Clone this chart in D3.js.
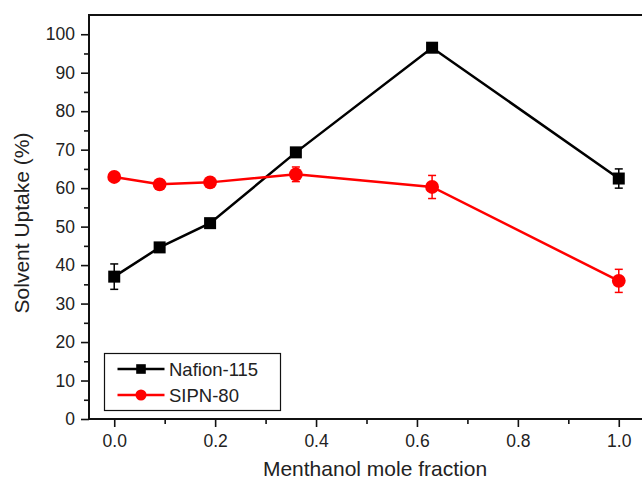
<!DOCTYPE html>
<html>
<head>
<meta charset="utf-8">
<script src="https://cdn.jsdelivr.net/npm/d3@7"></script>
<style>
  body { margin: 0; background: #fff; }
  text { font-family: "Liberation Sans", Arial, sans-serif; fill: #222; }
</style>
</head>
<body>
<svg id="chart" width="642" height="479"></svg>
<script>
// methanol mole fraction
let fractions = [0.0, 0.09, 0.19, 0.36, 0.63, 1.0]

let nafion = [37.0, 44.6, 50.9, 69.3, 96.5, 62.5]
let nafionErr = [3.3, 0.6, 0.6, 1.0, 1.0, 2.5]

let sipn = [62.9, 61.0, 61.5, 63.6, 60.3, 35.9]
let sipnErr = [0.4, 0.4, 0.4, 1.9, 3.0, 3.0]

let xTicks = [0.0, 0.2, 0.4, 0.6, 0.8, 1.0]
let yTicks = [0, 10, 20, 30, 40, 50, 60, 70, 80, 90, 100]

let seriesNames = ['Nafion-115', 'SIPN-80']

var svg = d3.select('#chart')
var margin = {top: 15, right: -2, bottom: 60, left: 89},
  width = 642 - margin.left - margin.right,
  height = 479 - margin.top - margin.bottom,
  g = svg.append('g').attr('transform', 'translate(' + margin.left + ',' + margin.top + ')')

var x = d3.scaleLinear().domain([-0.05, 1.05]).range([0, width])
var y = d3.scaleLinear().domain([0, 105]).range([height, 0])

// minor ticks first
g.append('g')
  .attr('transform', 'translate(0,' + height + ')')
  .call(d3.axisBottom(x).tickValues(d3.range(0.1, 1.0, 0.2)).tickSize(5).tickFormat(''))
g.append('g')
  .call(d3.axisLeft(y).tickValues(d3.range(5, 105, 10)).tickSize(5).tickFormat(''))

var xAxis = g.append('g')
  .attr('transform', 'translate(0,' + height + ')')
  .call(d3.axisBottom(x).tickValues(xTicks).tickSize(8).tickPadding(8).tickFormat(d3.format('.1f')))
var yAxis = g.append('g')
  .call(d3.axisLeft(y).tickValues(yTicks).tickSize(8).tickPadding(6))

g.selectAll('.tick text').style('font-size', '17.5px').attr('fill', '#222')
g.selectAll('.domain').remove()
g.selectAll('.tick line').attr('stroke', '#111').attr('stroke-width', 1.6)

// frame
g.append('rect')
  .attr('x', 0).attr('y', 0)
  .attr('width', width).attr('height', height)
  .attr('fill', 'none')
  .attr('stroke', '#111')
  .attr('stroke-width', 2)

var line = d3.line()
  .x(function(d) { return x(d.x) })
  .y(function(d) { return y(d.y) })

var series = [
  {name: seriesNames[0], vals: nafion, err: nafionErr, color: '#000', shape: 'square'},
  {name: seriesNames[1], vals: sipn, err: sipnErr, color: '#ff0000', shape: 'circle'}
]

function drawMarker(sel, s, cx, cy, size) {
  if (s.shape === 'square') {
    sel.append('rect')
      .attr('x', cx - size).attr('y', cy - size)
      .attr('width', size * 2).attr('height', size * 2)
      .attr('fill', s.color)
  } else {
    sel.append('circle')
      .attr('cx', cx).attr('cy', cy).attr('r', size * 1.15)
      .attr('fill', s.color)
  }
}

series.forEach(s => {
  let pts = fractions.map((f, i) => ({x: f, y: s.vals[i], e: s.err[i]}))
  let sg = g.append('g')

  sg.append('path')
    .datum(pts)
    .attr('d', line)
    .attr('fill', 'none')
    .attr('stroke', s.color)
    .attr('stroke-width', 2.5)

  // error bars
  pts.forEach(p => {
    let eb = sg.append('g').attr('stroke', s.color).attr('stroke-width', 1.5)
    eb.append('line')
      .attr('x1', x(p.x)).attr('x2', x(p.x))
      .attr('y1', y(p.y - p.e)).attr('y2', y(p.y + p.e))
    ;[p.y - p.e, p.y + p.e].forEach(v => {
      eb.append('line')
        .attr('x1', x(p.x) - 4).attr('x2', x(p.x) + 4)
        .attr('y1', y(v)).attr('y2', y(v))
    })
  })

  pts.forEach(p => drawMarker(sg, s, x(p.x), y(p.y), 6))
})

// legend
var legend = svg.append('g').attr('transform', 'translate(104.5,353.5)')
legend.append('rect')
  .attr('width', 176).attr('height', 57)
  .attr('fill', '#fff')
  .attr('stroke', '#111')
  .attr('stroke-width', 1.2)

series.forEach((s, i) => {
  let ly = 15.5 + i * 26
  legend.append('line')
    .attr('x1', 13).attr('x2', 60)
    .attr('y1', ly).attr('y2', ly)
    .attr('stroke', s.color)
    .attr('stroke-width', 2.5)
  drawMarker(legend, s, 36.5, ly, 4.8)
  legend.append('text')
    .attr('x', 64.5).attr('y', ly)
    .attr('dy', '0.36em')
    .style('font-size', '18.5px')
    .text(s.name)
})

// axis titles
svg.append('text')
  .attr('x', 375).attr('y', 476)
  .attr('text-anchor', 'middle')
  .style('font-size', '21px')
  .text('Menthanol mole fraction')

svg.append('text')
  .attr('transform', 'translate(29,223) rotate(-90)')
  .attr('text-anchor', 'middle')
  .style('font-size', '21px')
  .text('Solvent Uptake (%)')
</script>
</body>
</html>
